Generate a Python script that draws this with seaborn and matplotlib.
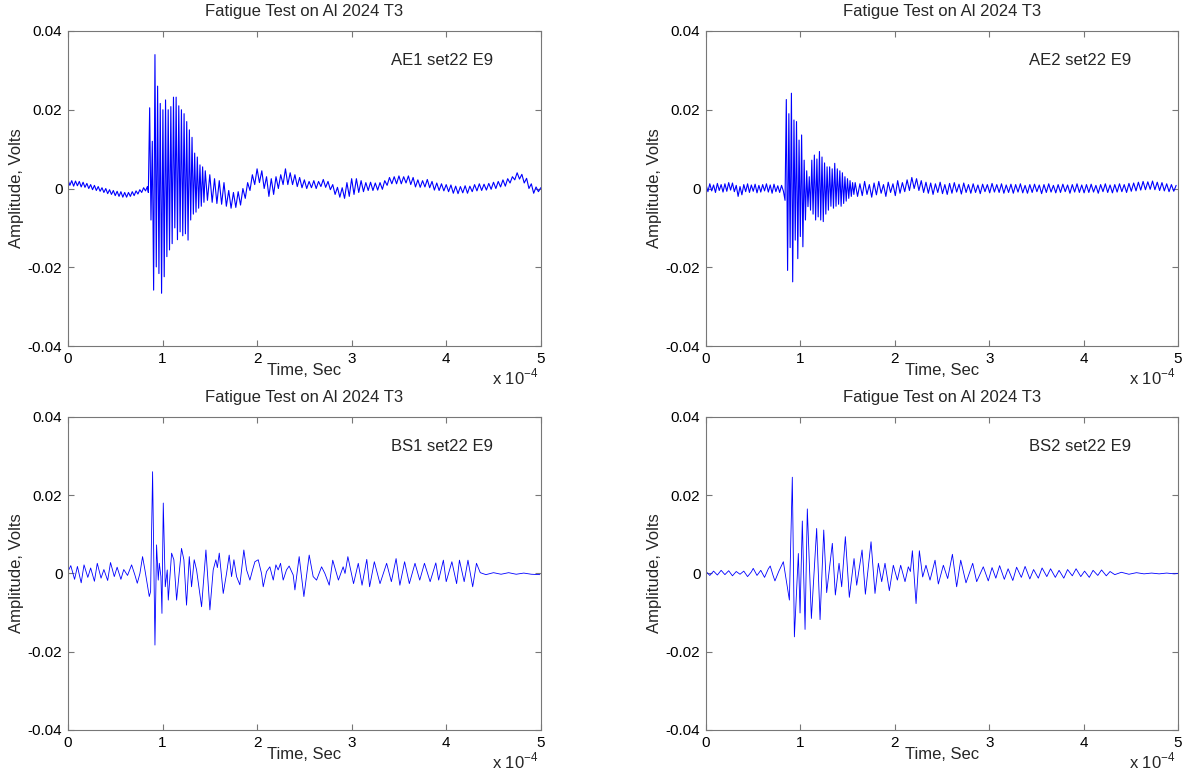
import numpy as np
import pandas as pd
import matplotlib
matplotlib.use("Agg")
import matplotlib.pyplot as plt
import seaborn as sns

# ---------------- data (time in units of 1e-4 s, amplitude in mV) ----------------
titles = ["Fatigue Test on Al 2024 T3"] * 4
labels = ["AE1 set22 E9", "AE2 set22 E9", "BS1 set22 E9", "BS2 set22 E9"]
x_ticks = [0, 1, 2, 3, 4, 5]
y_ticks = [-0.04, -0.02, 0, 0.02, 0.04]
y_ticklabels = ["-0.04", "-0.02", "0", "0.02", "0.04"]

# AE1 : sampled segments (start time, sample step, values)
ae1_pre_t0, ae1_pre_dt = 0.0, 0.02
ae1_pre = [2.2, 0.8, 2.0, 0.6, 1.9, 0.7, 1.8, 0.4, 1.6, 0.3,
           1.3, 0.0, 1.0, -0.3, 0.8, -0.5, 0.5, -0.7, 0.2, -1.0,
           0.0, -1.3, -0.3, -1.5, -0.5, -1.8, -0.7, -2.0, -0.8, -2.2,
           -1.0, -2.2, -1.0, -2.0, -0.8, -1.8, -0.6, -1.4, -0.3, -1.0,
           0.2, -0.6, 0.5]
ae1_burst_t0, ae1_burst_dt = 0.85, 0.014
ae1_burst = [-1.0, 20.5, -8.0, 12.0, -25.8, 34.0, -19.9, 26.0, -21.6, 21.6,
             -26.6, 20.0, -22.4, 22.5, -17.3, 20.0, -15.6, 20.8, -14.0, 23.2,
             -10.0, 23.2, -13.0, 21.0, -11.0, 20.0, -12.0, 19.0, -11.5, 17.0,
             -13.1, 14.9, -8.0, 13.0, -6.5, 9.0, -6.0, 8.0, -5.0, 6.0,
             -4.5, 5.5, -3.5, 4.5]
ae1_post_t0, ae1_post_dt = 1.475, 0.025
ae1_post = [-3.0, 3.5, -3.5, 2.5, -3.8, 2.0, -4.0, 1.5,
            -4.5, -0.5, -5.0, -1.0, -4.8, -0.8, -4.2, 0.0,
            -2.5, 1.5, -0.5, 3.5, 1.0, 5.0, 1.5, 4.5,
            0.0, 3.0, -2.0, 2.5, -1.5, 3.0, 0.0, 3.5,
            1.0, 5.0, 1.0, 4.0, 1.0, 3.5, 0.5, 2.8,
            0.2, 2.2, 0.0, 1.8, 0.2, 2.0, 0.0, 1.8,
            0.5, 2.3, 0.3, 1.8, -0.3, 1.0, -1.5, 0.3,
            -2.2, 0.2, -2.5, 1.5, -2.0, 2.5, -1.5, 2.5,
            -1.0, 2.0, -0.8, 1.5, -0.5, 1.6, -0.5, 1.4,
            -0.4, 1.5, -0.2, 2.0, 0.8, 2.8, 1.2, 3.0,
            1.2, 3.2, 1.2, 3.0, 1.4, 3.2, 1.0, 2.8,
            0.4, 2.2, 0.3, 2.0, 0.4, 2.3, 0.2, 1.8,
            -0.4, 1.4, -0.5, 1.2, -0.6, 1.0, -0.8, 0.9,
            -1.2, 0.6, -1.3, 0.5, -1.1, 0.7, -1.2, 0.6,
            -0.8, 1.0, -0.6, 1.2, -0.5, 1.1, -0.4, 1.3,
            -0.2, 1.6, 0.0, 1.8, 0.4, 2.2, 0.6, 2.5,
            1.4, 3.0, 2.2, 4.0, 2.4, 3.6, 1.4, 2.6,
            0.0, 1.2, -1.2, 0.4, -0.8, 0.2]

# AE2 : sampled segments
ae2_pre_t0, ae2_pre_dt = 0.0, 0.02
ae2_pre = [1.0, -0.8, 1.2, -0.6, 0.9, -1.0, 1.3, -0.5, 1.0, -0.9,
           1.2, -0.7, 1.5, -0.4, 1.4, -0.8, 0.8, -2.0, 0.5, -1.6,
           1.0, -0.8, 1.2, -1.0, 0.9, -0.7, 1.1, -1.1, 0.8, -0.9,
           1.0, -0.6, 1.2, -0.9, 0.9, -1.2, 1.1, -0.8, 0.7, -1.0,
           0.8, -0.7]
ae2_burst_t0, ae2_burst_dt = 0.837, 0.0135
ae2_burst = [-3.0, 22.6, -20.8, 19.0, -15.0, 24.2, -23.7, 17.4, -13.1, 17.0,
             -17.8, 12.3, -12.2, 13.6, -14.8, 7.2, -8.0, 4.5, -4.6, 3.0,
             -5.5, 7.2, -6.5, 8.5, -8.0, 7.5, -7.2, 9.4, -8.0, 8.0,
             -8.4, 6.5, -6.5, 5.5, -5.5, 5.5, -4.5, 5.0, -5.0, 6.4,
             -4.5, 5.0, -4.0, 4.5, -4.5, 4.0, -3.8, 3.0, -3.2, 2.5,
             -2.5, 2.0, -2.0, 1.5, -1.5]
ae2_post_t0, ae2_post_dt = 1.58, 0.025
ae2_post = [1.5, -2.0, 1.2, -1.8, 1.8, -1.5, 1.0, -2.2,
            1.4, -1.6, 1.8, -1.2, 1.0, -2.0, 1.6, -1.0,
            1.2, -1.8, 2.0, -1.2, 1.5, -0.8, 2.2, -0.5,
            2.8, 0.0, 2.5, -0.5, 2.0, -1.0, 1.6, -1.2,
            1.4, -1.5, 1.2, -1.0, 1.6, -1.3, 1.0, -1.5,
            1.3, -1.2, 1.5, -0.9, 1.1, -1.4, 1.4, -1.0,
            1.0, -1.2, 1.2, -1.0, 0.9, -1.3, 1.1, -0.8,
            1.0, -1.1, 1.3, -0.9, 1.0, -1.0, 1.2, -1.2,
            0.9, -1.0, 1.1, -1.2, 1.0, -0.9, 1.2, -1.1,
            0.8, -1.2, 1.0, -1.0, 1.1, -0.8, 0.9, -1.3,
            1.0, -1.0, 1.2, -0.9, 0.8, -1.1, 1.0, -1.0,
            1.1, -0.8, 0.9, -1.2, 1.0, -0.9, 1.2, -1.0,
            0.9, -1.1, 1.0, -1.0, 1.1, -0.9, 0.8, -1.2,
            1.0, -0.8, 1.2, -1.0, 0.9, -1.1, 1.0, -0.9,
            1.2, -0.8, 1.0, -1.0, 1.3, -0.7, 1.4, -0.6,
            1.6, -0.4, 1.8, -0.3, 1.7, -0.2, 1.9, -0.3,
            1.6, -0.5, 1.5, -0.6, 1.2, -0.8, 1.0, -0.7,
            0.8]

# BS1 : turning points
bs1_t = [0.00, 0.03, 0.07, 0.10, 0.14, 0.17, 0.21, 0.24, 0.28, 0.31,
         0.35, 0.38, 0.42, 0.45, 0.49, 0.52, 0.56, 0.59, 0.63, 0.673,
         0.708, 0.733, 0.761, 0.789, 0.814, 0.86, 0.874, 0.895, 0.92, 0.937,
         0.955, 0.966, 0.983, 0.994, 1.008, 1.029, 1.05, 1.061, 1.096, 1.12,
         1.149, 1.201, 1.226, 1.254, 1.283, 1.307, 1.335, 1.36, 1.413, 1.459,
         1.501, 1.536, 1.564, 1.58, 1.60, 1.642, 1.677, 1.705, 1.73, 1.755,
         1.783, 1.818, 1.86, 1.889, 1.924, 1.952, 1.977, 2.012, 2.047, 2.065,
         2.10, 2.135, 2.171, 2.199, 2.223, 2.248, 2.276, 2.311, 2.339, 2.382,
         2.40, 2.445, 2.495, 2.551, 2.593, 2.629, 2.682, 2.717, 2.763, 2.80,
         2.86, 2.91, 2.93, 2.96, 3.02, 3.07, 3.11, 3.16, 3.19, 3.24,
         3.30, 3.37, 3.42, 3.47, 3.51, 3.56, 3.61, 3.67, 3.72, 3.77,
         3.83, 3.89, 3.92, 3.97, 4.00, 4.06, 4.11, 4.14, 4.19, 4.23,
         4.28, 4.32, 4.36, 4.42, 4.50, 4.58, 4.66, 4.74, 4.82, 4.90,
         4.99]
bs1_v = [0.5, 2.0, -1.5, 1.8, -2.4, 2.2, -1.0, 1.4, -2.0, 2.6,
         -1.2, 1.0, -1.8, 2.8, -0.8, 1.6, -1.5, 1.0, -0.5, 2.2,
         -0.4, -2.5, 0.0, 4.3, 0.9, -5.9, -4.6, 26.0, -18.3, 7.3,
         -1.7, 2.6, -0.8, -10.2, 18.0, -3.4, 0.9, -6.8, 5.2, 3.5,
         -6.8, 6.4, 3.5, -8.1, 4.3, -3.4, 3.5, 0.9, -8.5, 6.0,
         -9.3, 0.9, 3.5, 1.5, 5.2, -5.1, 0.0, 4.7, -0.8, 3.5,
         -0.8, -2.9, 6.0, 0.9, -1.7, 0.9, 3.0, 3.5, 0.0, -3.4,
         0.5, 1.7, -1.7, 2.2, 0.9, 2.6, -1.7, 0.9, 1.9, -0.4,
         -4.2, 4.3, -5.9, 4.7, -0.8, -1.7, 1.7, 0.0, -3.0, 3.4,
         -1.7, 1.7, 0.0, 4.3, -2.6, 2.6, -3.0, 3.6, -3.4, 3.0,
         -2.6, 2.6, -2.1, 3.8, -3.0, 3.0, -2.6, 2.6, -1.7, 2.6,
         -2.1, 2.7, -1.7, 3.4, -2.1, 3.0, -2.6, 3.4, -2.1, 3.4,
         -3.4, 2.6, 0.2, -0.3, 0.2, -0.2, 0.2, -0.2, 0.1, -0.2,
         -0.3]

# BS2 : turning points
bs2_t = [0.00, 0.04, 0.08, 0.12, 0.16, 0.20, 0.24, 0.28, 0.32, 0.36,
         0.40, 0.44, 0.48, 0.50, 0.54, 0.58, 0.62, 0.66, 0.68, 0.71,
         0.73, 0.77, 0.819, 0.883, 0.914, 0.936, 0.978, 0.996, 1.02, 1.049,
         1.073, 1.116, 1.172, 1.208, 1.247, 1.278, 1.338, 1.37, 1.409, 1.437,
         1.476, 1.518, 1.568, 1.596, 1.653, 1.688, 1.748, 1.79, 1.826, 1.861,
         1.896, 1.942, 1.984, 2.027, 2.062, 2.108, 2.143, 2.165, 2.186, 2.225,
         2.26, 2.295, 2.33, 2.373, 2.426, 2.461, 2.514, 2.56, 2.61, 2.655,
         2.698, 2.754, 2.825, 2.867, 2.937, 2.99, 3.03, 3.07, 3.11, 3.16,
         3.20, 3.25, 3.29, 3.34, 3.38, 3.43, 3.47, 3.52, 3.56, 3.61,
         3.65, 3.70, 3.74, 3.79, 3.83, 3.88, 3.92, 3.97, 4.01, 4.06,
         4.10, 4.15, 4.19, 4.24, 4.28, 4.33, 4.40, 4.48, 4.56, 4.64,
         4.72, 4.80, 4.88, 4.96, 5.00]
bs2_v = [0.5, -0.5, 0.6, -0.4, 0.8, -0.3, 0.7, -0.6, 0.5, -0.2,
         0.6, -0.8, 0.4, 1.3, -0.5, 0.8, -1.0, 1.2, 1.9, -0.5,
         -1.9, 0.5, 3.0, -6.8, 24.6, -16.2, 5.1, -10.1, 13.4, -14.3,
         16.5, -11.5, 11.5, -11.8, 11.1, -4.9, 7.7, -5.5, 2.6, -3.4,
         9.4, -6.1, 3.8, -3.0, 6.0, -5.3, 8.1, -5.1, 2.6, -2.1,
         2.6, -4.4, 2.1, -1.7, 2.1, -2.1, 1.7, 0.5, 5.8, -7.7,
         5.8, -0.9, 2.1, -1.7, 3.4, -2.7, 2.1, -1.3, 4.9, -3.4,
         3.4, -2.4, 2.6, -2.1, 1.7, -1.9, 1.5, -1.2, 2.0, -1.5,
         1.2, -1.8, 1.6, -1.0, 1.8, -1.4, 1.0, -1.2, 1.4, -0.8,
         1.2, -1.0, 0.8, -1.2, 1.0, -0.6, 1.2, -0.8, 0.6, -1.0,
         0.8, -0.5, 0.9, -0.6, 0.5, -0.3, 0.3, -0.2, 0.2, -0.1,
         0.1, -0.1, 0.1, -0.1, 0.0]


def sampled(t0, dt, vals):
    return t0 + dt * np.arange(len(vals)), np.asarray(vals, dtype=float)


def join(*segs):
    t = np.concatenate([s[0] for s in segs])
    v = np.concatenate([s[1] for s in segs])
    return t, v


ae1 = join(sampled(ae1_pre_t0, ae1_pre_dt, ae1_pre),
           sampled(ae1_burst_t0, ae1_burst_dt, ae1_burst),
           sampled(ae1_post_t0, ae1_post_dt, ae1_post))
ae2 = join(sampled(ae2_pre_t0, ae2_pre_dt, ae2_pre),
           sampled(ae2_burst_t0, ae2_burst_dt, ae2_burst),
           sampled(ae2_post_t0, ae2_post_dt, ae2_post))
bs1 = (np.asarray(bs1_t), np.asarray(bs1_v))
bs2 = (np.asarray(bs2_t), np.asarray(bs2_v))
series = [ae1, ae2, bs1, bs2]
line_widths = [0.8, 0.8, 0.6, 0.6]

# ---------------- style ----------------
sns.set_theme(style="ticks")
plt.rcParams["font.family"] = ["Liberation Sans", "DejaVu Sans"]
plt.rcParams["mathtext.fontset"] = "custom"
plt.rcParams["mathtext.rm"] = "Liberation Sans"
plt.rcParams["axes.linewidth"] = 0.8

fig = plt.figure(figsize=(11.88, 7.75), dpi=100)
fig.patch.set_facecolor("white")
positions = [
    [0.0572, 0.5535, 0.398, 0.4065],
    [0.5943, 0.5535, 0.3973, 0.4065],
    [0.0572, 0.0581, 0.398, 0.4039],
    [0.5943, 0.0581, 0.3973, 0.4039],
]
frame_col = "#777777"
fs_tick = 11
fs = 12

for pos, (t, v), title, lab, lw in zip(positions, series, titles, labels, line_widths):
    ax = fig.add_axes(pos)
    df = pd.DataFrame({"t": t, "v": v * 1e-3})
    sns.lineplot(data=df, x="t", y="v", ax=ax, color="#0000ff", lw=lw,
                 estimator=None, sort=False)
    ax.set_xlim(0, 5)
    ax.set_ylim(-0.04, 0.04)
    ax.set_xticks(x_ticks)
    ax.set_xticklabels([str(x) for x in x_ticks])
    ax.set_yticks(y_ticks)
    ax.set_yticklabels(y_ticklabels)
    ax.tick_params(direction="in", length=4, width=0.8, colors=frame_col,
                   labelcolor="black", labelsize=fs_tick, top=True, right=True, pad=4)
    for s in ax.spines.values():
        s.set_visible(True)
        s.set_color(frame_col)
        s.set_linewidth(0.8)
    ax.set_xlabel("Time, Sec", fontsize=fs, labelpad=-2)
    ax.set_ylabel("Amplitude, Volts", fontsize=fs, labelpad=3)
    ax.set_title(title, fontsize=fs, pad=11)
    ax.text(3.42, 0.0325, lab, fontsize=fs, ha="left", va="center")
    ax.text(0.995, -0.1, r"x 10$^{\mathregular{-4}}$", transform=ax.transAxes,
            ha="right", va="center", fontsize=fs)
    ax.grid(False)

fig.savefig("out.png", dpi=100, facecolor="white")
